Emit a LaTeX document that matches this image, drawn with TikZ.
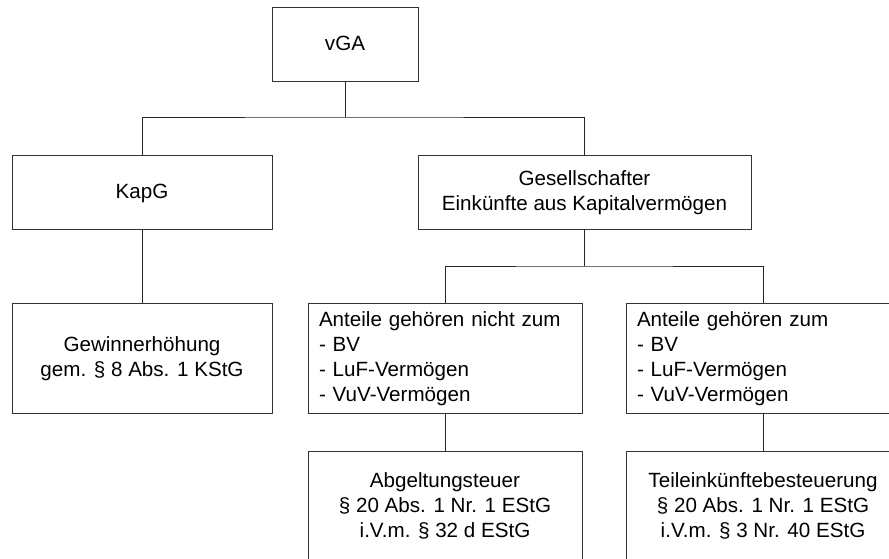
\documentclass[tikz,border=0pt]{standalone}
\usepackage{fontspec}
\setmainfont{Liberation Sans}
\begin{document}
\begin{tikzpicture}[x=1pt,y=-1pt,
  txt/.style={font=\fontsize{20.6}{25}\selectfont, text depth=3.6pt},
  l1/.style={text height=16pt},
  l2/.style={text height=41pt},
  l3/.style={text height=66pt},
  box/.style={txt, draw=black!80, line width=0.8pt, minimum width=#1, inner sep=0pt,
    align=center},
  % with a text width the first line sets the height and the rest goes into the depth
  listbox/.style={font=\fontsize{20.6}{25}\selectfont, text height=16pt, text depth=78.6pt,
    draw=black!80, line width=0.8pt, minimum width=274pt, minimum height=110pt,
    inner xsep=11pt, inner ysep=0pt, text width=252pt, align=left},
  link/.style={draw=black!85, line width=0.9pt}]
\useasboundingbox (0,0) rectangle (889,558);
\clip (0,0) rectangle (889,558);

% boxes
\node[box=146pt, l1, minimum height=74pt] (vga) at (345,44) {vGA};
\node[box=260pt, l1, minimum height=74pt] (kapg) at (142,192) {KapG};
\node[box=333pt, l2, minimum height=74pt] (ges) at (584.5,192) {Gesellschafter\\Einkünfte aus Kapitalvermögen};
\node[box=260pt, l2, minimum height=110pt] (gew) at (142,358) {Gewinnerhöhung\\gem. § 8 Abs. 1 KStG};
\node[listbox] (nicht) at (445,358) {Anteile gehören nicht zum\\- BV\\- LuF-Vermögen\\- VuV-Vermögen};
\node[listbox] (zum) at (763,358) {Anteile gehören zum\\- BV\\- LuF-Vermögen\\- VuV-Vermögen};
\node[box=274pt, l3, minimum height=110pt] (abg) at (445,506) {Abgeltungsteuer\\§ 20 Abs. 1 Nr. 1 EStG\\i.V.m. § 32 d EStG};
\node[box=274pt, l3, minimum height=110pt] (teil) at (763,506) {Teileinkünftebesteuerung\\§ 20 Abs. 1 Nr. 1 EStG\\i.V.m. § 3 Nr. 40 EStG};

% junction points
\coordinate (j1) at (345,117);
\coordinate (j2) at (584.5,266);

% connectors
\draw[link] (vga.south) -- (j1);
\draw[link] (kapg.north) |- (j1) -| (ges.north);
\draw[link] (ges.south) -- (j2);
\draw[link] (nicht.north) |- (j2) -| (zum.north);
\draw[link] (kapg.south) -- (gew.north);
\draw[link] (nicht.south) -- (abg.north);
\draw[link] (zum.south) -- (teil.north);
\end{tikzpicture}
\end{document}
